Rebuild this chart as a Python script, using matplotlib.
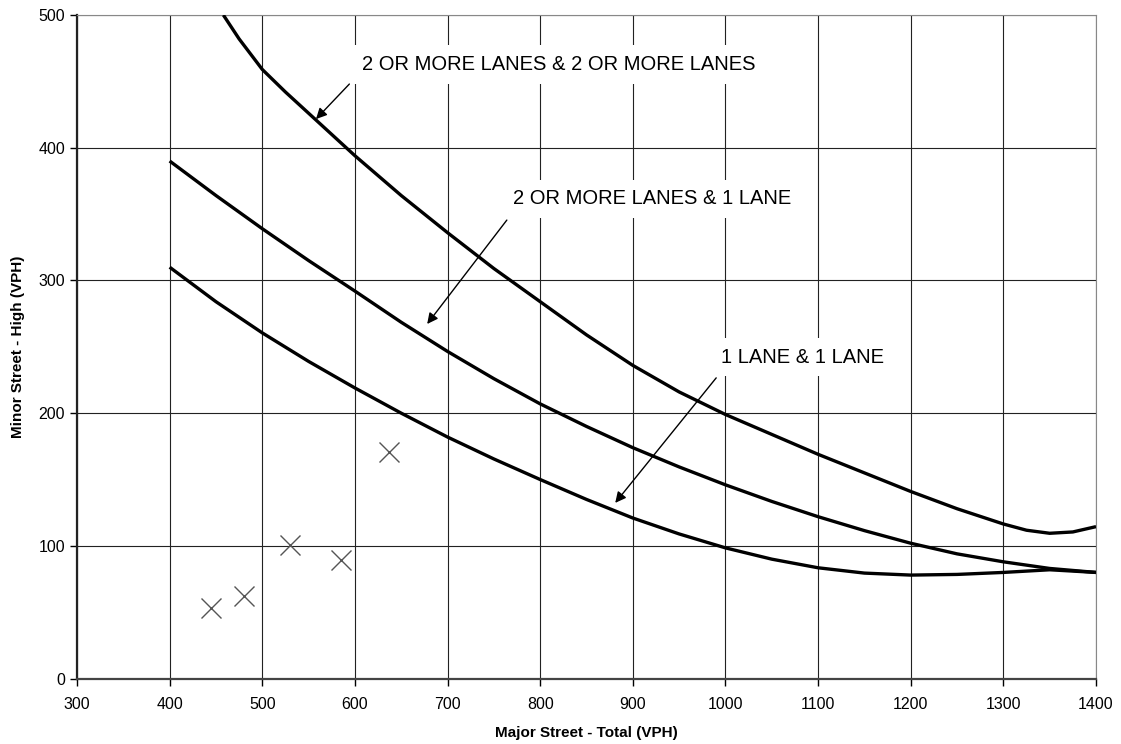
import numpy as np
import matplotlib.pyplot as plt

plt.rcParams['font.family'] = ['Liberation Sans', 'DejaVu Sans']

# curve readings (major street total VPH -> minor street high VPH)
two_two_x = [458, 475, 500, 525, 550, 600, 650, 700, 750, 800, 850, 900, 950, 1000,
             1050, 1100, 1150, 1200, 1250, 1300, 1325, 1350, 1375, 1400]
two_two_y = [500, 482, 459, 442, 426, 394, 364, 336, 309, 284, 259, 236, 216, 199,
             184, 169, 155, 141, 128, 116.5, 111.8, 109.5, 110.5, 114.5]

two_one_x = [400, 450, 500, 550, 600, 650, 700, 750, 800, 850, 900, 950,
             1000, 1050, 1100, 1150, 1200, 1250, 1300, 1350, 1400]
two_one_y = [390, 364, 339, 315, 292, 268.5, 246.5, 226, 207, 190, 174, 159.5,
             146, 133.5, 122, 111.5, 102, 94, 88, 83, 80]

one_one_x = [400, 450, 500, 550, 600, 650, 700, 750, 800, 850, 900, 950,
             1000, 1050, 1100, 1150, 1200, 1250, 1300, 1350, 1400]
one_one_y = [310, 284, 260.5, 239, 219, 200, 182, 165.5, 150, 135, 121, 109,
             98.5, 90, 83.5, 79.5, 78, 78.5, 80, 82, 80]

# observed hourly volumes
obs_x = [445, 480, 530, 585, 637]
obs_y = [53, 62, 101, 89, 171]

labels = ["2 OR MORE LANES & 2 OR MORE LANES",
          "2 OR MORE LANES & 1 LANE",
          "1 LANE & 1 LANE"]
label_xy = [(820, 462.7), (921, 361.4), (1083, 242.3)]
arrow_tail = [(594, 448), (764, 345.5), (990, 226.6)]
arrow_head = [(558, 421.6), (678, 267.2), (881, 132.4)]

fig = plt.figure(figsize=(11.21, 7.44), dpi=100)
ax = fig.add_axes([0.0687, 0.0879, 0.9090, 0.8919])

ax.set_xlim(300, 1400)
ax.set_ylim(0, 500)
ax.set_xticks(np.arange(300, 1401, 100))
ax.set_yticks(np.arange(0, 501, 100))
ax.grid(True, color='#222222', linewidth=0.8)
ax.set_axisbelow(True)

for cx, cy in [(two_two_x, two_two_y), (two_one_x, two_one_y), (one_one_x, one_one_y)]:
    ax.plot(cx, cy, color='black', linewidth=2.4, solid_joinstyle='round',
            solid_capstyle='butt', zorder=3)

ax.plot(obs_x, obs_y, linestyle='none', marker='x', markersize=14,
        markeredgewidth=1.0, color='#555555', zorder=4)

for txt, (tx, ty) in zip(labels, label_xy):
    ax.text(tx, ty, txt, fontsize=14.5, ha='center', va='center', zorder=5,
            bbox=dict(facecolor='white', edgecolor='none', pad=7))

for (x0, y0), (x1, y1) in zip(arrow_tail, arrow_head):
    ax.annotate('', xy=(x1, y1), xytext=(x0, y0), zorder=6,
                arrowprops=dict(arrowstyle='-|>', color='black', lw=1.0,
                                mutation_scale=16, shrinkA=0, shrinkB=0))

ax.spines['left'].set_linewidth(1.6)
ax.spines['left'].set_color('#222222')
ax.spines['bottom'].set_linewidth(1.6)
ax.spines['bottom'].set_color('#444444')
ax.spines['top'].set_color('#888888')
ax.spines['right'].set_color('#888888')
ax.tick_params(direction='out', length=5, width=1, labelsize=11.5, colors='black')
ax.tick_params(axis='x', pad=8)

ax.set_xlabel('Major Street - Total (VPH)', fontsize=11, fontweight='bold', labelpad=10)
ax.set_ylabel('Minor Street - High (VPH)', fontsize=11, fontweight='bold', labelpad=10)

fig.savefig('out.png', dpi=100)
